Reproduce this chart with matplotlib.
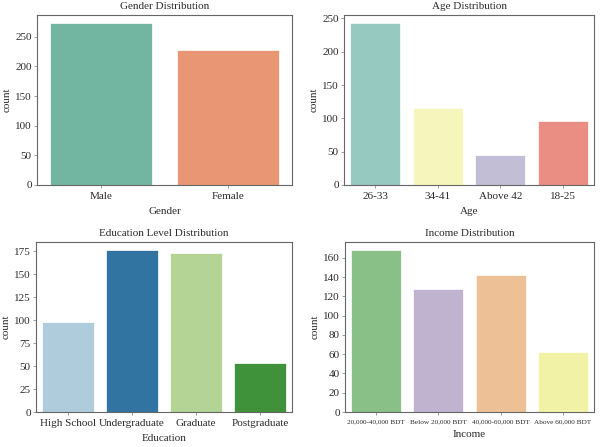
import matplotlib
matplotlib.use("Agg")
import matplotlib.pyplot as plt
from matplotlib.ticker import MultipleLocator
import seaborn as sns

gender_cats = ["Male", "Female"]
gender_vals = [273, 227]

age_cats = ["26-33", "34-41", "Above 42", "18-25"]
age_vals = [243, 116, 45, 96]

edu_cats = ["High School", "Undergraduate", "Graduate", "Postgraduate"]
edu_vals = [98, 176, 173, 53]

inc_cats = ["20,000-40,000 BDT", "Below 20,000 BDT", "40,000-60,000 BDT", "Above 60,000 BDT"]
inc_vals = [168, 128, 142, 62]

plt.rcParams['font.family'] = ['Liberation Serif', 'DejaVu Serif']
plt.rcParams['font.size'] = 16
text_c = '#2b2b2b'
plt.rcParams['text.color'] = text_c
plt.rcParams['axes.labelcolor'] = text_c
plt.rcParams['xtick.color'] = '#555555'
plt.rcParams['ytick.color'] = '#555555'
plt.rcParams['xtick.labelcolor'] = text_c
plt.rcParams['ytick.labelcolor'] = text_c
plt.rcParams['axes.edgecolor'] = '#666666'
plt.rcParams['xtick.major.size'] = 4
plt.rcParams['ytick.major.size'] = 4

W, H = 600, 447
fig = plt.figure(figsize=(12, 8.94), dpi=50)

def box(l, r, t, b):
    return [l / W, 1 - b / H, (r - l) / W, (b - t) / H]

specs = [
    (box(37, 292, 15, 185), gender_cats, gender_vals, "Set2", "Gender", "Gender Distribution", 16, 50),
    (box(344, 594, 15, 185), age_cats, age_vals, "Set3", "Age", "Age Distribution", 16, 50),
    (box(36, 292, 242, 412), edu_cats, edu_vals, "Paired", "Education", "Education Level Distribution", 16, 25),
    (box(345, 594, 242, 412), inc_cats, inc_vals, "Accent", "Income", "Income Distribution", 10.5, 20),
]

for rect, cats, vals, pal, xl, title, xts, step in specs:
    ax = fig.add_axes(rect)
    sns.barplot(x=cats, y=vals, hue=cats, palette=pal, legend=False, ax=ax,
                saturation=0.75, edgecolor='white', linewidth=1.0)
    ax.yaxis.set_major_locator(MultipleLocator(step))
    ax.set_xlabel(xl, labelpad=9)
    ax.set_ylabel("count", labelpad=5)
    ax.set_title(title, fontsize=16, pad=9)
    ax.tick_params(axis='x', labelsize=xts, pad=6)
    for s in ax.spines.values():
        s.set_linewidth(1.6)

fig.savefig("out.png", dpi=50)
